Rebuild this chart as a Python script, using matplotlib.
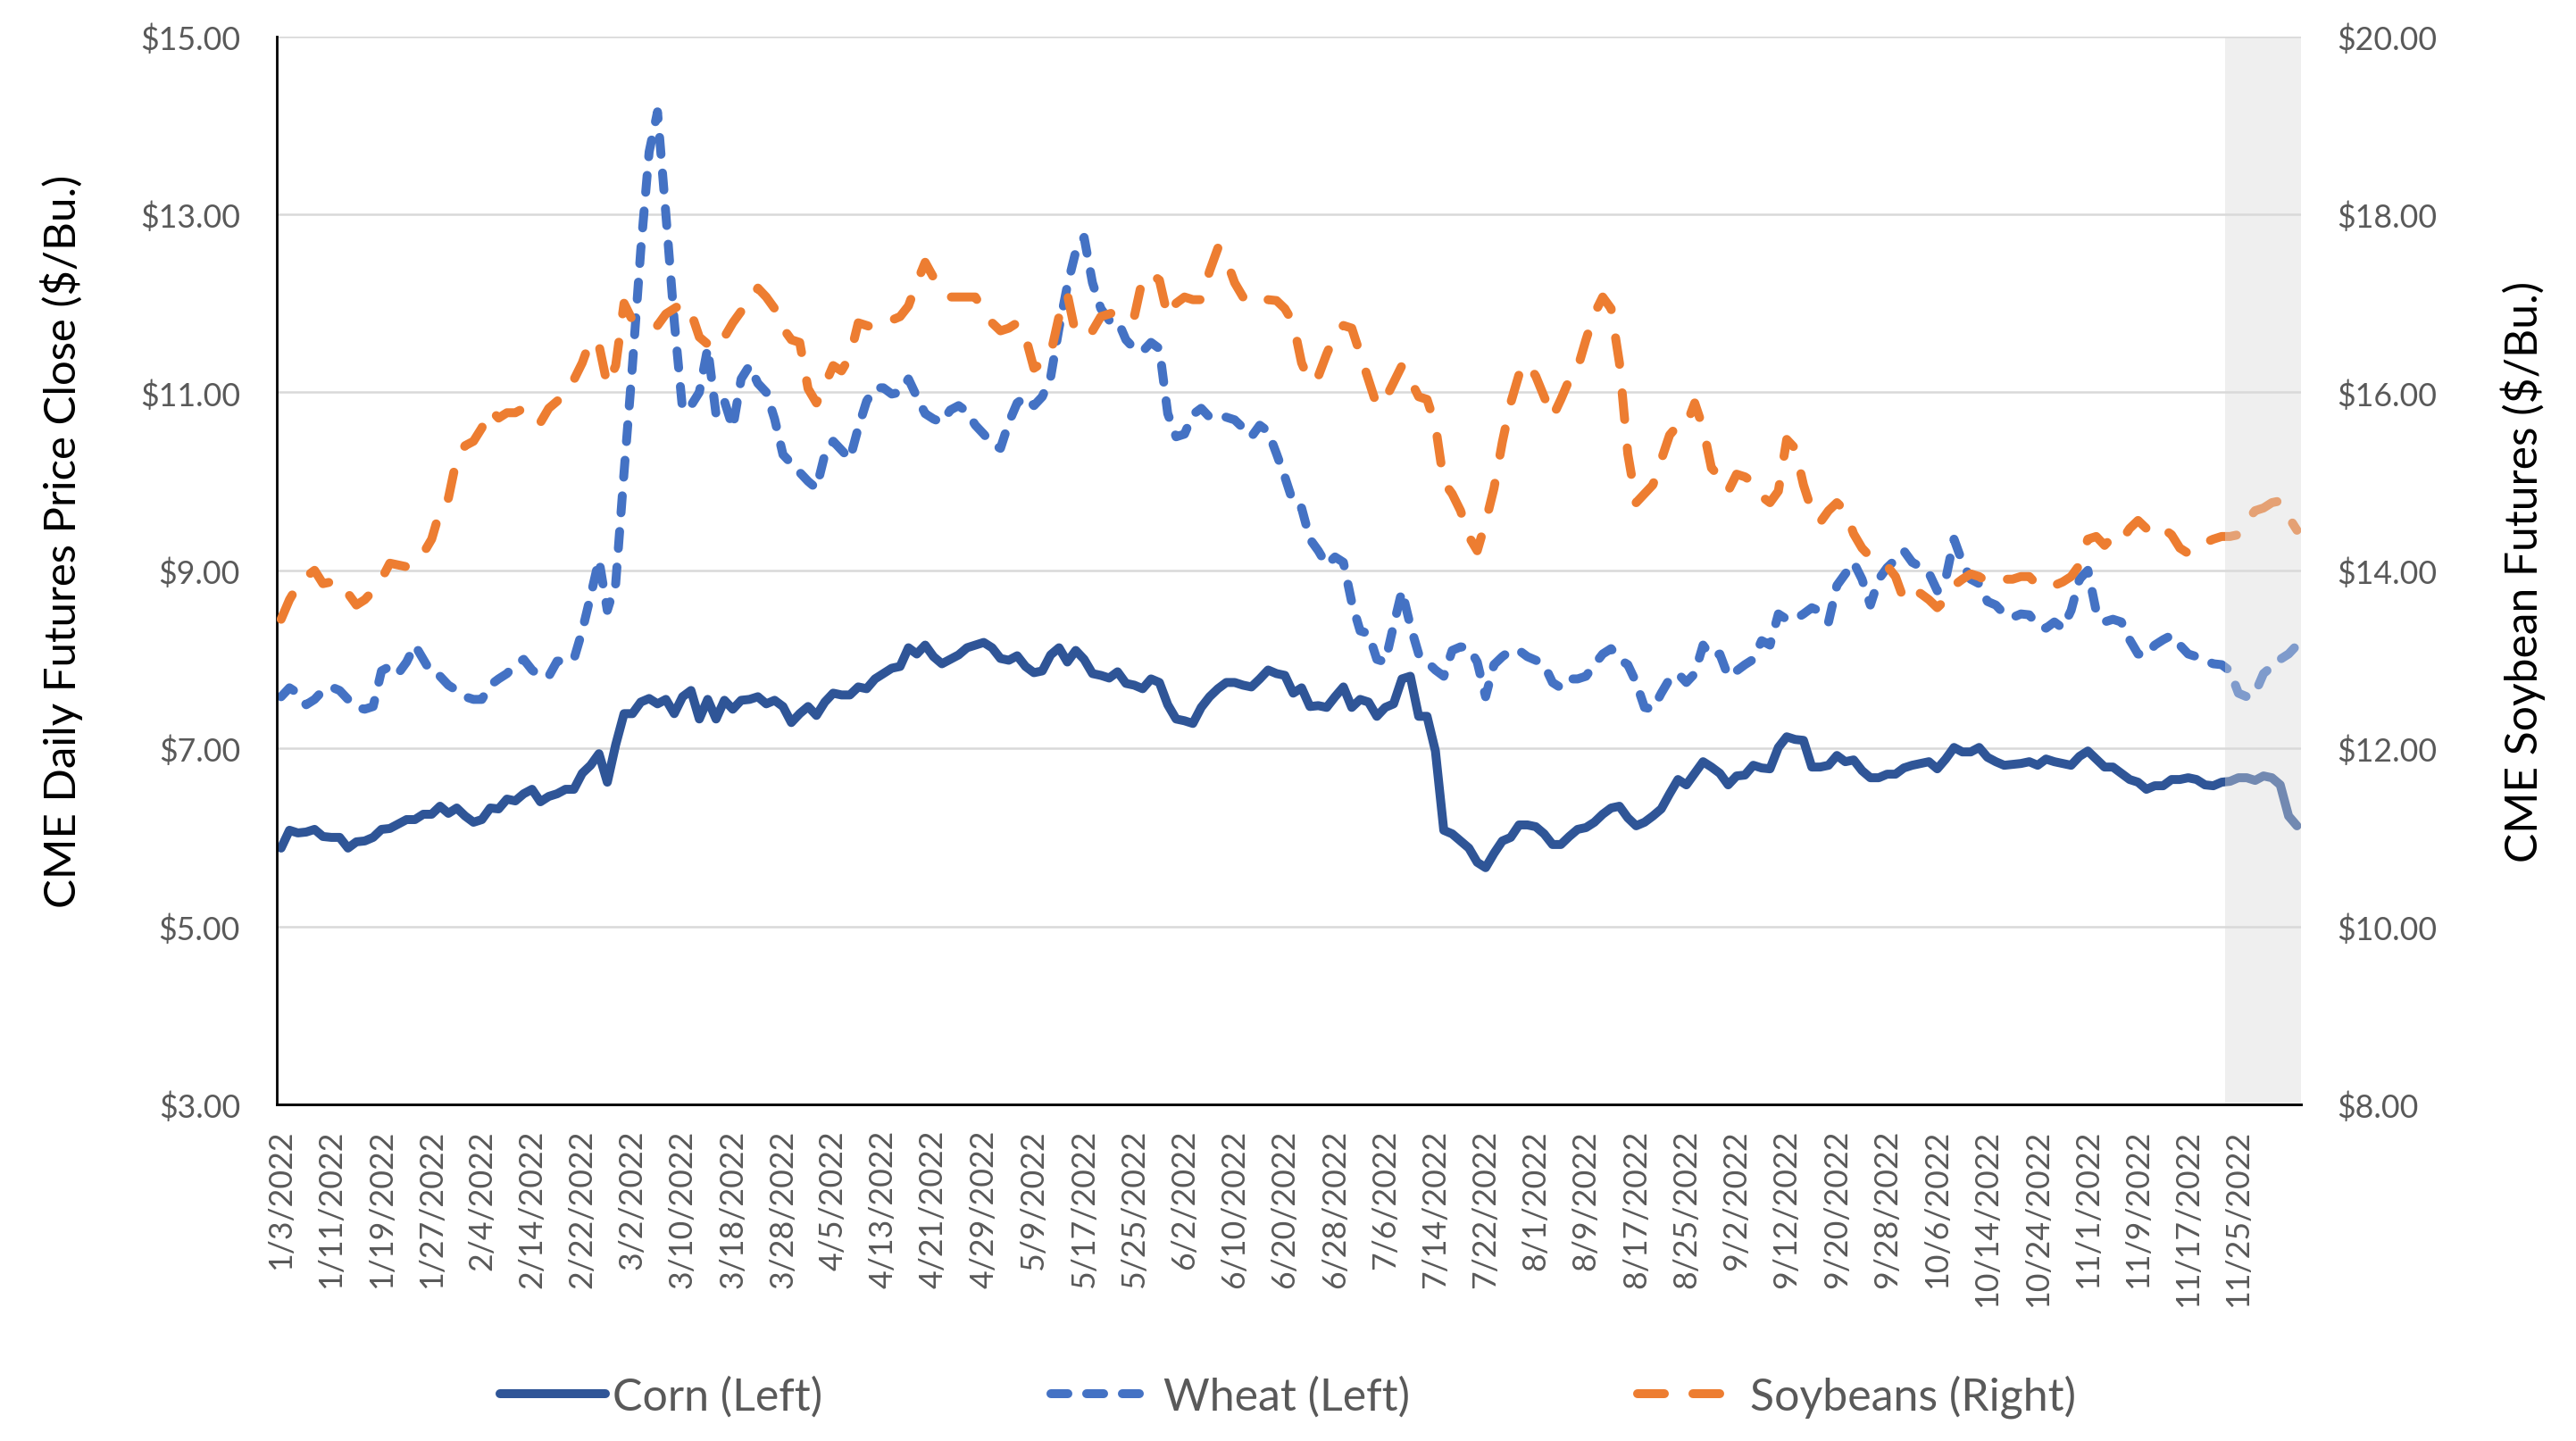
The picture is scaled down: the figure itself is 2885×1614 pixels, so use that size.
import matplotlib.pyplot as plt
import pandas as pd

plt.rcParams['font.family'] = ['Lato', 'DejaVu Sans']

# trading days shown on the category axis (every weekday, Jan 3 onward)
dates = pd.bdate_range('2022-01-03', periods=242)
date_labels = [f"{d.month}/{d.day}/{d.year}" for d in dates]

# CME daily close, $/bu
corn = [
    5.88, 6.08, 6.05, 6.06, 6.09, 6.01, 6.00, 6.00, 5.88, 5.95,
    5.96, 6.00, 6.09, 6.10, 6.15, 6.20, 6.20, 6.26, 6.26, 6.35,
    6.27, 6.33, 6.24, 6.17, 6.20, 6.33, 6.32, 6.43, 6.41, 6.49,
    6.54, 6.40, 6.46, 6.49, 6.54, 6.54, 6.72, 6.81, 6.94, 6.62,
    7.04, 7.39, 7.39, 7.52, 7.56, 7.50, 7.55, 7.39, 7.58, 7.65,
    7.33, 7.55, 7.33, 7.54, 7.44, 7.54, 7.55, 7.58, 7.50, 7.54,
    7.47, 7.29, 7.39, 7.47, 7.37, 7.52, 7.62, 7.60, 7.60, 7.69,
    7.67, 7.78, 7.84, 7.90, 7.92, 8.13, 8.06, 8.16, 8.03, 7.95,
    8.00, 8.05, 8.13, 8.16, 8.19, 8.13, 8.01, 7.99, 8.04, 7.92,
    7.85, 7.87, 8.05, 8.13, 7.97, 8.10, 8.00, 7.84, 7.82, 7.79,
    7.86, 7.73, 7.71, 7.67, 7.78, 7.74, 7.49, 7.33, 7.31, 7.28,
    7.46, 7.58, 7.67, 7.74, 7.74, 7.71, 7.69, 7.78, 7.88, 7.84,
    7.82, 7.62, 7.68, 7.47, 7.48, 7.46, 7.58, 7.69, 7.46, 7.55,
    7.52, 7.36, 7.46, 7.50, 7.78, 7.81, 7.36, 7.36, 6.97, 6.08,
    6.04, 5.96, 5.88, 5.72, 5.66, 5.82, 5.96, 6.00, 6.14, 6.14,
    6.12, 6.04, 5.92, 5.92, 6.01, 6.09, 6.11, 6.17, 6.26, 6.33,
    6.35, 6.22, 6.13, 6.17, 6.24, 6.32, 6.49, 6.65, 6.59, 6.72,
    6.85, 6.79, 6.72, 6.59, 6.69, 6.70, 6.81, 6.78, 6.77, 7.01,
    7.13, 7.10, 7.09, 6.79, 6.79, 6.81, 6.92, 6.85, 6.87, 6.75,
    6.67, 6.67, 6.71, 6.71, 6.78, 6.81, 6.83, 6.85, 6.77, 6.88,
    7.01, 6.96, 6.96, 7.01, 6.90, 6.85, 6.81, 6.82, 6.83, 6.85,
    6.81, 6.88, 6.85, 6.83, 6.81, 6.91, 6.97, 6.88, 6.79, 6.79,
    6.72, 6.65, 6.62, 6.54, 6.58, 6.58, 6.65, 6.65, 6.67, 6.65,
    6.59, 6.58, 6.62, 6.63, 6.67, 6.67, 6.64, 6.69, 6.67, 6.59,
    6.24, 6.13,
]

wheat = [
    7.58, 7.68, 7.62, 7.49, 7.55, 7.65, 7.69, 7.65, 7.55, 7.46,
    7.44, 7.47, 7.87, 7.92, 7.84, 7.97, 8.16, 8.00, 7.84, 7.81,
    7.71, 7.65, 7.58, 7.55, 7.55, 7.71, 7.78, 7.84, 7.94, 8.00,
    7.88, 7.81, 7.81, 7.98, 7.98, 8.00, 8.32, 8.71, 9.12, 8.55,
    8.85, 10.10, 11.30, 12.60, 13.70, 14.15, 13.00, 11.80, 10.80, 10.85,
    11.00, 11.50, 10.75, 10.90, 10.60, 11.15, 11.30, 11.10, 11.00, 10.70,
    10.30, 10.20, 10.10, 10.00, 9.92, 10.30, 10.45, 10.35, 10.25, 10.60,
    10.90, 11.05, 11.05, 10.98, 11.00, 11.15, 10.95, 10.76, 10.70, 10.66,
    10.80, 10.85, 10.78, 10.63, 10.53, 10.42, 10.37, 10.66, 10.88, 10.95,
    10.85, 10.95, 11.17, 11.72, 12.20, 12.58, 12.74, 12.23, 11.94, 11.81,
    11.81, 11.59, 11.49, 11.46, 11.56, 11.49, 10.76, 10.50, 10.53, 10.75,
    10.82, 10.72, 10.74, 10.72, 10.69, 10.60, 10.50, 10.63, 10.56, 10.31,
    10.05, 9.76, 9.70, 9.35, 9.22, 9.06, 9.15, 9.09, 8.64, 8.32,
    8.29, 8.00, 7.97, 8.38, 8.77, 8.38, 8.06, 7.97, 7.88, 7.81,
    8.10, 8.14, 8.13, 7.97, 7.58, 7.94, 8.03, 8.10, 8.10, 8.03,
    7.99, 7.94, 7.74, 7.68, 7.78, 7.78, 7.81, 7.94, 8.06, 8.12,
    8.00, 7.94, 7.74, 7.46, 7.44, 7.62, 7.78, 7.84, 7.74, 7.84,
    8.16, 8.03, 8.06, 7.81, 7.87, 7.94, 8.00, 8.21, 8.16, 8.51,
    8.45, 8.45, 8.51, 8.58, 8.54, 8.42, 8.83, 8.96, 9.09, 8.90,
    8.61, 8.90, 9.03, 9.12, 9.22, 9.09, 9.04, 8.97, 8.77, 8.90,
    9.35, 9.09, 8.90, 8.85, 8.65, 8.61, 8.51, 8.47, 8.51, 8.50,
    8.38, 8.35, 8.42, 8.35, 8.55, 8.90, 9.00, 8.54, 8.42, 8.45,
    8.42, 8.22, 8.06, 8.05, 8.16, 8.22, 8.27, 8.16, 8.06, 8.03,
    7.99, 7.95, 7.94, 7.87, 7.62, 7.58, 7.62, 7.84, 7.92, 8.00,
    8.06, 8.16,
]

soybeans = [
    13.45, 13.67, 13.83, 13.93, 14.00, 13.85, 13.87, 13.88, 13.74, 13.61,
    13.67, 13.77, 13.90, 14.08, 14.06, 14.04, 14.09, 14.19, 14.35, 14.67,
    14.81, 15.26, 15.40, 15.45, 15.60, 15.81, 15.71, 15.77, 15.77, 15.82,
    15.69, 15.66, 15.82, 15.90, 15.99, 16.14, 16.33, 16.59, 16.53, 16.08,
    16.30, 17.00, 16.81, 16.79, 16.78, 16.75, 16.88, 16.94, 17.00, 16.90,
    16.62, 16.54, 16.49, 16.62, 16.78, 16.91, 17.00, 17.17, 17.07, 16.94,
    16.72, 16.59, 16.56, 16.04, 15.88, 16.08, 16.30, 16.24, 16.40, 16.78,
    16.75, 16.72, 16.78, 16.81, 16.85, 16.97, 17.23, 17.46, 17.29, 17.17,
    17.07, 17.07, 17.07, 17.07, 16.91, 16.78, 16.69, 16.72, 16.78, 16.62,
    16.27, 16.33, 16.43, 16.85, 17.10, 16.65, 16.65, 16.69, 16.85, 16.88,
    16.91, 16.94, 16.85, 17.28, 17.33, 17.26, 16.85, 17.00, 17.07, 17.04,
    17.04, 17.36, 17.62, 17.49, 17.23, 17.07, 16.99, 17.00, 17.04, 17.03,
    16.94, 16.78, 16.33, 16.11, 16.18, 16.43, 16.65, 16.75, 16.72, 16.43,
    16.14, 15.85, 15.92, 16.11, 16.30, 16.14, 15.95, 15.92, 15.63, 14.99,
    14.86, 14.67, 14.38, 14.22, 14.54, 14.92, 15.44, 15.88, 16.20, 16.33,
    16.18, 15.95, 15.72, 15.92, 16.14, 16.27, 16.59, 16.88, 17.07, 16.94,
    16.33, 15.31, 14.76, 14.86, 14.96, 15.24, 15.52, 15.63, 15.63, 15.88,
    15.60, 15.15, 15.05, 14.89, 15.08, 15.05, 14.99, 14.83, 14.76, 14.89,
    15.47, 15.37, 14.96, 14.67, 14.54, 14.67, 14.76, 14.67, 14.41, 14.25,
    14.15, 14.09, 14.05, 13.93, 13.67, 13.77, 13.74, 13.67, 13.58, 13.67,
    13.83, 13.90, 13.96, 13.93, 13.87, 13.85, 13.90, 13.90, 13.93, 13.93,
    13.83, 13.80, 13.83, 13.87, 13.93, 14.06, 14.35, 14.38, 14.28, 14.38,
    14.33, 14.47, 14.56, 14.47, 14.54, 14.47, 14.40, 14.25, 14.19, 14.28,
    14.31, 14.35, 14.38, 14.38, 14.40, 14.56, 14.67, 14.70, 14.76, 14.78,
    14.60, 14.45,
]

left_ticks = [3, 5, 7, 9, 11, 13, 15]
right_ticks = [8, 10, 12, 14, 16, 18, 20]
label_every = 6
shade_start = 232.4   # grey band over the last days

GREY = '#595959'
x = list(range(len(dates)))

fig = plt.figure(figsize=(14.425, 8.075), dpi=200)
ax = fig.add_axes([0.1075, 0.2334, 0.7858, 0.7409])
ax2 = ax.twinx()

lw = 3.6
l_corn, = ax.plot(x, corn, color='#2F5597', lw=lw, solid_joinstyle='round',
                  solid_capstyle='round', label='Corn (Left)', zorder=2)
l_wheat, = ax.plot(x, wheat, color='#4472C4', lw=lw, dash_capstyle='round',
                   dash_joinstyle='round', label='Wheat (Left)', zorder=2)
l_wheat.set_dashes([1.9, 2.1])
l_soy, = ax2.plot(x, soybeans, color='#ED7D31', lw=lw, dash_capstyle='round',
                  dash_joinstyle='round', label='Soybeans (Right)', zorder=2)
l_soy.set_dashes([3.0, 3.2])

ax2.axvspan(shade_start, len(dates) - 0.5, color='#D9D9D9', alpha=0.4, lw=0, zorder=3)

ax.set_xlim(-0.5, len(dates) - 0.5)
ax.set_ylim(3, 15)
ax2.set_ylim(8, 20)

ax.set_yticks(left_ticks)
ax.set_yticklabels([f"${v:.2f}" for v in left_ticks])
ax2.set_yticks(right_ticks)
ax2.set_yticklabels([f"${v:.2f}" for v in right_ticks])

tick_pos = list(range(0, 235, label_every))
ax.set_xticks(tick_pos)
ax.set_xticklabels([date_labels[i] for i in tick_pos], rotation=90, va='top')

ax.tick_params(axis='both', length=0, labelsize=12.9, labelcolor=GREY)
ax.tick_params(axis='x', pad=10)
ax.tick_params(axis='y', pad=14.8)
ax2.tick_params(axis='y', length=0, labelsize=12.9, labelcolor=GREY, pad=14.4)

ax.grid(axis='y', color='#D9D9D9', lw=0.9)
ax.set_axisbelow(True)

for s in ['top', 'right']:
    ax.spines[s].set_visible(False)
for s in ['top', 'right', 'left']:
    ax2.spines[s].set_visible(False)
ax.spines['left'].set_color('black')
ax.spines['left'].set_linewidth(1.0)
ax.spines['bottom'].set_linewidth(1.0)
ax2.spines['bottom'].set_color('black')
ax2.spines['bottom'].set_linewidth(1.0)
ax2.spines['bottom'].set_zorder(6)

fig.text(69 / 2885, 1 - 606 / 1615, 'CME Daily Futures Price Close ($/Bu.)',
         rotation=90, ha='center', va='center', fontsize=17.7, color='black')
fig.text(2826 / 2885, 1 - 640 / 1615, 'CME Soybean Futures ($/Bu.)',
         rotation=90, ha='center', va='center', fontsize=17.9, color='black')

fig.legend(handles=[l_corn, l_wheat, l_soy], loc='center',
           bbox_to_anchor=(0.5, 1 - 1565 / 1615), ncol=3, frameon=False,
           fontsize=18, handlelength=2.36, handletextpad=0.16,
           columnspacing=5.1, labelcolor=GREY)

fig.savefig('out.png', dpi=200)
